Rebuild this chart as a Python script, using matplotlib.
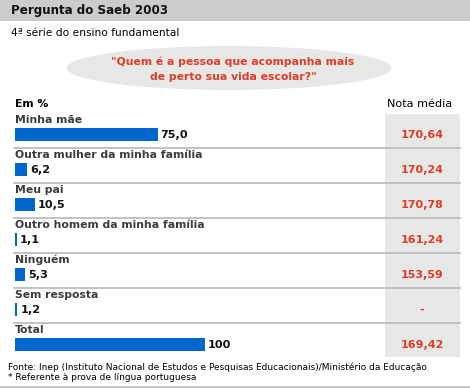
import matplotlib
matplotlib.use('Agg')
import matplotlib.pyplot as plt
from matplotlib.patches import Ellipse, Rectangle
import numpy as np

# data
categories = ['Minha mãe', 'Outra mulher da minha família', 'Meu pai',
              'Outro homem da minha família', 'Ninguém', 'Sem resposta', 'Total']
percent = [75.0, 6.2, 10.5, 1.1, 5.3, 1.2, 100]
percent_labels = ['75,0', '6,2', '10,5', '1,1', '5,3', '1,2', '100']
nota_media = ['170,64', '170,24', '170,78', '161,24', '153,59', '-', '169,42']

W, H = 470, 388
blue = '#0066cc'
red = '#e23b27'
light = '#e6e8e5'
line_c = '#b8b8b8'
txt_c = '#3c3c3c'

fig = plt.figure(figsize=(W / 100, H / 100), dpi=100)
ax = fig.add_axes([0, 0, 1, 1])
ax.set_xlim(0, W)
ax.set_ylim(H, 0)
ax.axis('off')

# header band
ax.add_patch(Rectangle((0, 0), W, 21, color='#cccccc', lw=0))
ax.text(11, 10.5, 'Pergunta do Saeb 2003', fontsize=8.6, fontweight='bold',
        va='center', ha='left', color='#111111')
ax.text(11, 33, '4ª série do ensino fundamental', fontsize=7.7, va='center', ha='left')

# question ellipse
ax.add_patch(Ellipse((229, 68), 325, 44, color=light, lw=0))
ax.text(233, 62, '"Quem é a pessoa que acompanha mais', fontsize=7.8, fontweight='bold',
        color=red, ha='center', va='center')
ax.text(233, 76.5, 'de perto sua vida escolar?"', fontsize=7.8, fontweight='bold',
        color=red, ha='center', va='center')

ax.text(15, 104, 'Em %', fontsize=7.8, fontweight='bold', va='center', ha='left')
ax.text(420, 104, 'Nota média', fontsize=8.1, va='center', ha='center')

# gray column behind the averages
ax.add_patch(Rectangle((385, 114), 75, 243, color=light, lw=0))

n = len(categories)
pitch = 35
label_y = 120 + pitch * np.arange(n)
bar_y = 134 + pitch * np.arange(n)
px = 1.9  # pixels per percent point
x0 = 15

ax.barh(bar_y, np.array(percent) * px, left=x0, height=13, color=blue)

for i in range(n):
    ax.text(x0, label_y[i], categories[i], fontsize=7.8, fontweight='bold',
            color=txt_c, va='center', ha='left')
    ax.text(x0 + percent[i] * px + 3, bar_y[i] + 1, percent_labels[i], fontsize=8.1,
            fontweight='bold', va='center', ha='left', color='#111111')
    ax.text(422, bar_y[i] + 1, nota_media[i], fontsize=8, fontweight='bold',
            color=red, va='center', ha='center')
    if i < n - 1:
        ax.plot([14, 460], [bar_y[i] + 13.5] * 2, color=line_c, lw=1.2)

# footer
ax.text(8, 367, 'Fonte: Inep (Instituto Nacional de Estudos e Pesquisas Educacionais)/Ministério da Educação',
        fontsize=6.5, va='center', ha='left')
ax.text(8, 378, '* Referente à prova de língua portuguesa', fontsize=6.5, va='center', ha='left')
ax.plot([0, W], [386.5, 386.5], color=line_c, lw=1.2)

plt.savefig('out.png', dpi=100)
